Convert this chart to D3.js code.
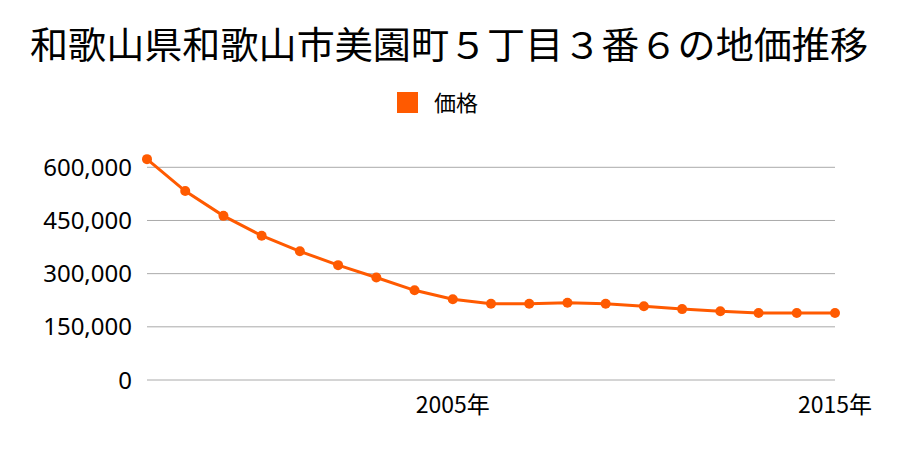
<!DOCTYPE html>
<html><head><meta charset="utf-8">
<script src="https://cdn.jsdelivr.net/npm/d3@7"></script>
<style>body{margin:0;background:#fff;}svg{display:block;font-family:"Noto Sans CJK JP","Noto Sans",sans-serif;}</style>
</head><body>
<svg id="c" width="900" height="450"></svg>
<script>
const years = [1997,1998,1999,2000,2001,2002,2003,2004,2005,2006,2007,2008,2009,2010,2011,2012,2013,2014,2015];
const prices = [623000,533000,463000,407000,363000,324000,289000,253000,228000,215000,215000,218000,215000,208000,200000,194000,189000,189000,189000];
const yTicks = [0,150000,300000,450000,600000];
const xTicks = [2005,2015];
const title = "和歌山県和歌山市美園町５丁目３番６の地価推移";
const seriesName = "価格";
const color = "#ff5a00";

const svg = d3.select("#c");
const x = d3.scaleLinear().domain([1997,2015]).range([147,835]);
const y = d3.scaleLinear().domain([0,600000]).range([380,167.3]);

svg.append("text").attr("x",449).attr("y",59).attr("text-anchor","middle")
  .attr("font-size",37).attr("textLength",838).attr("lengthAdjust","spacingAndGlyphs")
  .attr("fill","#000").text(title);

svg.append("rect").attr("x",397).attr("y",92).attr("width",21).attr("height",21).attr("fill",color);
svg.append("text").attr("x",434).attr("y",111).attr("font-size",22).attr("fill","#000").text(seriesName);

const gy = svg.append("g");
yTicks.forEach(t=>{
  gy.append("line").attr("x1",147).attr("x2",835).attr("y1",y(t)).attr("y2",y(t))
    .attr("stroke","#aaaaaa").attr("stroke-width",1);
  gy.append("text").attr("x",132).attr("y",y(t)+8.5).attr("text-anchor","end")
    .attr("font-family","'Noto Sans',sans-serif")
    .attr("font-size",24).attr("fill","#000").text(d3.format(",")(t));
});
xTicks.forEach(t=>{
  svg.append("text").attr("x",x(t)).attr("y",413).attr("text-anchor","middle")
    .attr("font-size",23).attr("fill","#000").text(t+"年");
});

const data = years.map((yr,i)=>({yr,v:prices[i]}));
svg.append("path").datum(data)
  .attr("d",d3.line().x(d=>x(d.yr)).y(d=>y(d.v)))
  .attr("fill","none").attr("stroke",color).attr("stroke-width",3);
svg.selectAll("circle.p").data(data).enter().append("circle")
  .attr("cx",d=>x(d.yr)).attr("cy",d=>y(d.v)).attr("r",5).attr("fill",color);
</script>
</body></html>
